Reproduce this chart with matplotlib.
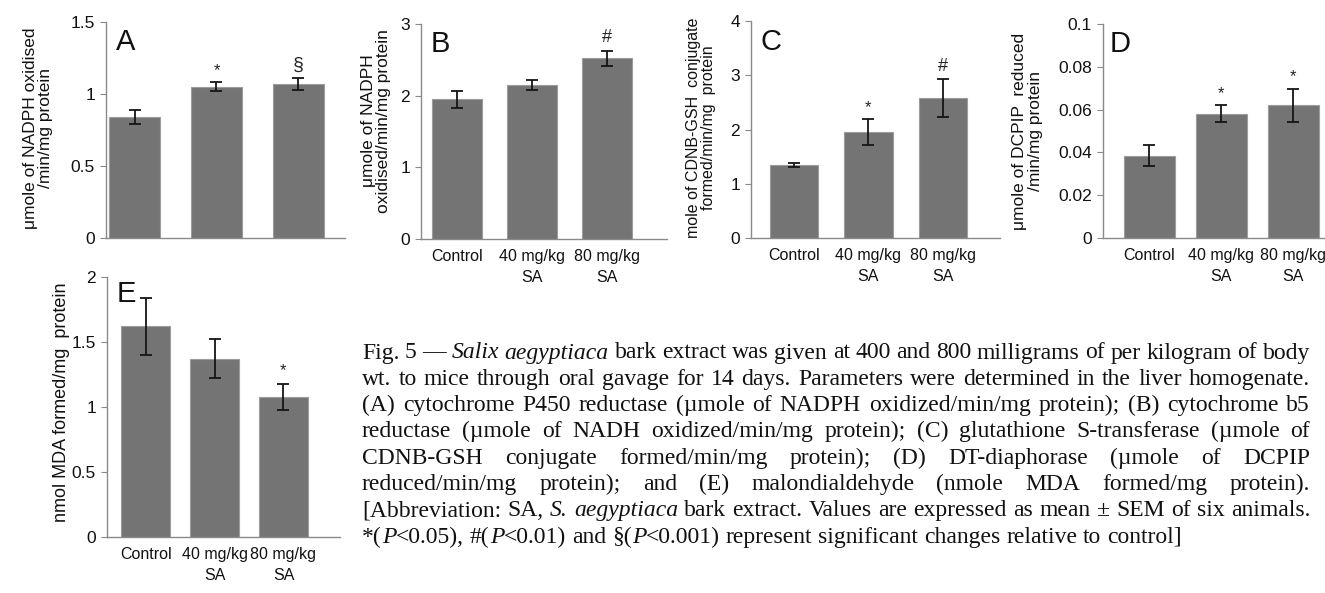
import numpy as np
import matplotlib
matplotlib.use('Agg')
import matplotlib.pyplot as plt
from matplotlib.ticker import FuncFormatter

plt.rcParams['font.family'] = ['Liberation Sans Narrow', 'Liberation Sans', 'DejaVu Sans']

W, H = 1325, 593

groups = ['Control', '40 mg/kg\nSA', '80 mg/kg\nSA']

a_mean = [0.84, 1.05, 1.07]
a_sem = [0.05, 0.03, 0.04]
a_sig = ['', '*', '§']

b_mean = [1.95, 2.15, 2.52]
b_sem = [0.12, 0.07, 0.11]
b_sig = ['', '', '#']

c_mean = [1.35, 1.95, 2.58]
c_sem = [0.04, 0.24, 0.35]
c_sig = ['', '*', '#']

d_mean = [0.0385, 0.058, 0.062]
d_sem = [0.0048, 0.004, 0.0077]
d_sig = ['', '*', '*']

e_mean = [1.62, 1.37, 1.08]
e_sem = [0.22, 0.15, 0.10]
e_sig = ['', '', '*']

a_ticks = [0, 0.5, 1, 1.5]
b_ticks = [0, 1, 2, 3]
c_ticks = [0, 1, 2, 3, 4]
d_ticks = [0, 0.02, 0.04, 0.06, 0.08, 0.1]
e_ticks = [0, 0.5, 1, 1.5, 2]

a_ylabel = 'μmole of NADPH oxidised\n/min/mg protein'
b_ylabel = 'μmole of NADPH\noxidised/min/mg protein'
c_ylabel = 'mole of CDNB-GSH  conjugate\nformed/min/mg  protein'
d_ylabel = 'μmole of DCPIP  reduced\n/min/mg protein'
e_ylabel = 'nmol MDA formed/mg  protein'

caption = [
    'Fig. 5 — |Salix| |aegyptiaca| bark extract was given at 400 and 800 milligrams of per kilogram of body',
    'wt. to mice through oral gavage for 14 days. Parameters were determined in the liver homogenate.',
    '(A) cytochrome P450 reductase (µmole of NADPH oxidized/min/mg protein); (B) cytochrome b5',
    'reductase (µmole of NADH oxidized/min/mg protein); (C) glutathione S-transferase (µmole of',
    'CDNB-GSH conjugate formed/min/mg protein); (D) DT-diaphorase (µmole of DCPIP',
    'reduced/min/mg protein); and (E) malondialdehyde (nmole MDA formed/mg protein).',
    '[Abbreviation: SA, |S.| |aegyptiaca| bark extract. Values are expressed as mean ± SEM of six animals.',
    '*(|P|<0.05), #(|P|<0.01) and §(|P|<0.001) represent significant changes relative to control]',
]

fig = plt.figure(figsize=(W / 100, H / 100), dpi=100)


def px_axes(l, t, r, b):
    return fig.add_axes([l / W, 1 - b / H, (r - l) / W, (b - t) / H])


gray = '#8a8a8a'


def panel(box, xlim, width, mean, sem, sig, ticks, ylabel, ylab_xy, letter, letter_xy,
          xlabels=True, ylab_size=12.5, sig_pad=0.02):
    ax = px_axes(*box)
    x = np.arange(len(mean))
    ax.bar(x, mean, width=width, color='#747474', edgecolor='#9c9c9c', linewidth=0.8, zorder=2)
    ax.errorbar(x, mean, yerr=sem, fmt='none', ecolor='#151515', elinewidth=1.3,
                capsize=4, capthick=1.3, zorder=3)
    top = ticks[-1]
    for xi, m, s, t in zip(x, mean, sem, sig):
        if t:
            fs = 14 if t == '§' else (13 if t == '#' else 12)
            ax.text(xi, m + s + sig_pad * top, t, ha='center', va='bottom', fontsize=fs,
                    family=['Liberation Sans', 'DejaVu Sans'], color='#222222')
    ax.set_xlim(*xlim)
    ax.set_ylim(0, top)
    ax.set_yticks(ticks)
    ax.yaxis.set_major_formatter(FuncFormatter(lambda v, p: '%g' % v))
    for s in ['top', 'right']:
        ax.spines[s].set_visible(False)
    for s in ['left', 'bottom']:
        ax.spines[s].set_color(gray)
        ax.spines[s].set_linewidth(1.0)
    ax.tick_params(axis='y', length=4, color=gray, labelsize=12.5, pad=4, labelcolor='#111111')
    if xlabels:
        ax.set_xticks(x)
        ax.set_xticklabels(groups, fontsize=11.5, linespacing=1.55, color='#111111')
        ax.tick_params(axis='x', length=0, pad=7)
    else:
        ax.set_xticks([])
    ax.set_ylabel(ylabel, fontsize=ylab_size, linespacing=1.05, color='#111111')
    ax.yaxis.set_label_coords(*ylab_xy)
    ax.text(letter_xy[0], letter_xy[1], letter, transform=ax.transAxes, fontsize=21,
            family=['Liberation Sans', 'DejaVu Sans'], ha='left', va='top', color='#111111')
    return ax


panel((106, 22, 345, 238), (-0.35, 2.57), 0.62, a_mean, a_sem, a_sig, a_ticks,
      a_ylabel, (-0.22, 0.51), 'A', (0.04, 0.97), xlabels=False)
panel((421, 24, 667, 239), (-0.48, 2.8), 0.67, b_mean, b_sem, b_sig, b_ticks,
      b_ylabel, (-0.12, 0.55), 'B', (0.04, 0.97))
panel((751, 21, 1000, 238), (-0.58, 2.77), 0.65, c_mean, c_sem, c_sig, c_ticks,
      c_ylabel, (-0.14, 0.51), 'C', (0.04, 0.97), ylab_size=11.5)
panel((1103, 24, 1325, 238), (-0.64, 2.44), 0.71, d_mean, d_sem, d_sig, d_ticks,
      d_ylabel, (-0.27, 0.5), 'D', (0.03, 0.97))
panel((107, 277, 340, 537), (-0.56, 2.82), 0.7, e_mean, e_sem, e_sig, e_ticks,
      e_ylabel, (-0.16, 0.52), 'E', (0.04, 0.99), ylab_size=13)

# justified caption
cap_left, cap_right = 362, 1310
cap_y0, cap_dy = 353, 26.3
serif = ['Liberation Serif', 'DejaVu Serif']
cap_size = 17
renderer = fig.canvas.get_renderer()


def make_word(word):
    parts = word.split('|')
    runs = []
    for i, p in enumerate(parts):
        if p:
            t = fig.text(0, 0, p, fontsize=cap_size, family=serif,
                         style='italic' if i % 2 else 'normal', va='center', ha='left',
                         color='#111111')
            runs.append(t)
    widths = [r.get_window_extent(renderer).width for r in runs]
    return runs, widths


t1 = fig.text(0, 0, 'a a', fontsize=cap_size, family=serif)
t2 = fig.text(0, 0, 'aa', fontsize=cap_size, family=serif)
space_w = t1.get_window_extent(renderer).width - t2.get_window_extent(renderer).width
t1.remove()
t2.remove()

for i, line in enumerate(caption):
    words = [make_word(w) for w in line.split(' ')]
    total = sum(sum(w[1]) for w in words)
    last = i == len(caption) - 1
    gap = space_w if last else (cap_right - cap_left - total) / (len(words) - 1)
    y = 1 - (cap_y0 + i * cap_dy) / H
    xpos = cap_left
    for runs, widths in words:
        for r, wd in zip(runs, widths):
            r.set_position((xpos / W, y))
            xpos += wd
        xpos += gap

fig.savefig('out.png', dpi=100)
